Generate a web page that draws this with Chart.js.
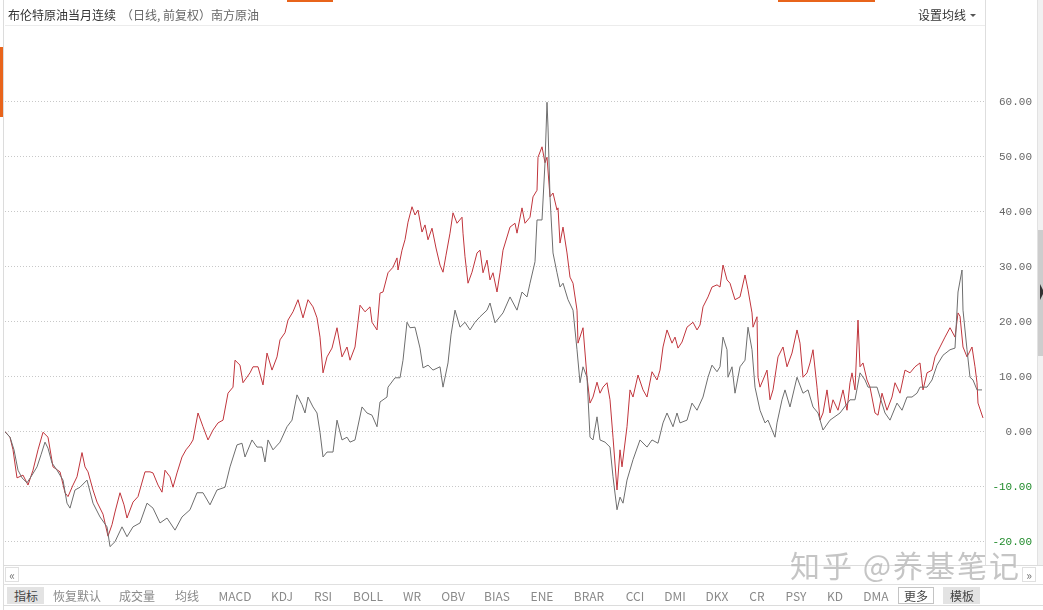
<!DOCTYPE html>
<html>
<head>
<meta charset="utf-8">
<script src="https://cdn.jsdelivr.net/npm/chart.js@4/dist/chart.umd.min.js"></script>
<style>
  html, body { margin:0; padding:0; background:#fff; }
  #wrap { position:relative; width:1043px; height:610px; overflow:hidden; background:#fff; font-family:"Noto Sans CJK SC", sans-serif; }
  #c { position:absolute; left:0; top:0; }
  .abs { position:absolute; }
  .tab { position:absolute; top:587px; height:17px; line-height:17px; font-size:12px; color:#8a8a8a; transform:translateX(-50%); white-space:nowrap; }
</style>
</head>
<body>
<div id="wrap">
  <canvas id="c" width="1043" height="610"></canvas>

  <!-- frame decorations -->
  <div class="abs" style="left:3px;top:0;width:1px;height:610px;background:#dcdcdc"></div>
  <div class="abs" style="left:0;top:47px;width:3px;height:70px;background:#e8641b"></div>
  <div class="abs" style="left:287px;top:0;width:46px;height:2px;background:#e8641b"></div>
  <div class="abs" style="left:778px;top:0;width:97px;height:2px;background:#e8641b"></div>
  <div class="abs" style="left:5px;top:25px;width:980px;height:1px;background:#ececec"></div>
  <div class="abs" style="left:985px;top:0;width:1px;height:565px;background:#dedede"></div>
  <div class="abs" style="left:1037px;top:0;width:6px;height:565px;background:#f1f1f1;border-left:1px solid #e2e2e2"></div>
  <div class="abs" style="left:1038px;top:230px;width:5px;height:126px;background:#cdcdcd"></div>
  <div class="abs" style="left:1040px;top:284px;width:0;height:0;border-top:8px solid transparent;border-bottom:8px solid transparent;border-left:4px solid #333"></div>

  <div id="title" class="abs" style="left:8px;top:6px;font-size:12px;line-height:18px;color:#333;white-space:nowrap"></div>
  <div id="maset" class="abs" style="left:918px;top:6px;font-size:12px;line-height:18px;color:#333;white-space:nowrap">设置均线</div>
  <div class="abs" style="left:970px;top:14px;width:0;height:0;border-left:3px solid transparent;border-right:3px solid transparent;border-top:3px solid #555"></div>

  <!-- bottom toolbar -->
  <div class="abs" style="left:3px;top:565px;width:1040px;height:1px;background:#dcdcdc"></div>
  <div class="abs" style="left:5px;top:567px;width:14px;height:15px;border:1px solid #e0e0e0;box-sizing:border-box;font-size:12px;line-height:13px;color:#777;text-align:center">«</div>
  <div class="abs" style="left:1022px;top:567px;width:14px;height:15px;border:1px solid #e0e0e0;box-sizing:border-box;font-size:12px;line-height:13px;color:#777;text-align:center">»</div>
  <div class="abs" style="left:3px;top:584px;width:1040px;height:1px;background:#e0e0e0"></div>
  <div class="abs" style="left:3px;top:605px;width:1040px;height:1px;background:#dcdcdc"></div>
  <div class="abs" style="left:7px;top:587px;width:37px;height:17px;background:#e3e3e3"></div>
  <div class="abs" style="left:898px;top:587px;width:36px;height:17px;border:1px solid #c4c4c4;box-sizing:border-box"></div>
  <div class="abs" style="left:943px;top:587px;width:37px;height:17px;background:#e3e3e3"></div>
  <div id="tabs"></div>

  <div class="abs" style="left:790px;top:545px;font-size:30px;line-height:38px;color:rgba(140,140,140,0.5);white-space:nowrap;letter-spacing:2px;text-shadow:0 0 2px #fff">知乎 @养基笔记</div>
</div>

<script>
// ---------------- data ----------------
const titleMain = "布伦特原油当月连续";
const titleSub = "（日线, 前复权）";
const titleCompare = "南方原油";

const yTicks = [60, 50, 40, 30, 20, 10, 0, -10, -20];

// red series: trading-day index and cumulative change (%)
const redDays = [0,5,8,12,18,23,28,33,38,43,48,55,60,63,68,72,77,80,83,88,92,98,103,107,110,115,119,122,128,133,140,145,148,153,157,160,165,168,172,177,181,185,188,193,198,203,208,213,218,223,228,230,235,238,245,248,253,258,262,267,272,275,280,283,288,293,298,303,308,312,315,318,322,327,332,337,342,345,350,355,360,365,367,372,375,378,383,388,392,393,397,400,403,407,410,413,417,420,423,427,431,435,438,441,445,448,452,457,458,460,463,467,472,475,478,482,485,488,492,495,498,502,505,510,512,517,520,525,528,532,533,537,540,542,545,548,552,553,555,558,562,565,568,572,573,578,582,585,588,592,595,598,602,605,608,612,615,617,622,625,628,633,638,642,647,652,655,658,662,667,670,673,677,682,688,692,695,698,703,707,712,715,718,722,725,730,735,740,743,747,748,752,753,755,758,762,765,768,773,778,782,787,792,795,798,802,805,808,812,815,818,822,825,828,833,838,842,845,847,850,853,855,858,862,865,870,873,877,882,887,890,895,900,905,910,915,918,922,927,930,935,940,945,950,953,955,958,962,967,970,972,973,978];
const redVals = [0.0,-1.0,-3.3,-8.4,-7.9,-9.7,-7.0,-3.3,-0.1,-1.0,-6.4,-7.3,-11.1,-11.8,-9.7,-8.2,-3.8,-6.4,-7.3,-10.6,-12.8,-15.0,-19.0,-16.9,-14.6,-11.1,-13.3,-15.7,-12.8,-11.8,-7.3,-7.3,-7.5,-9.7,-11.0,-7.0,-8.2,-10.1,-7.5,-4.6,-3.3,-2.4,-1.5,3.4,0.9,-1.5,0.3,1.6,2.1,7.0,8.1,13.0,12.1,8.9,10.7,11.8,11.8,8.5,14.3,11.2,13.6,16.7,18.0,20.3,21.8,24.0,20.7,24.0,22.7,20.7,17.2,10.7,13.6,15.2,18.9,13.6,15.4,13.0,15.4,23.0,21.8,22.7,19.9,18.5,25.2,25.4,28.9,29.9,31.6,29.4,33.0,34.9,38.1,40.9,39.4,40.3,36.3,37.6,34.9,37.0,33.4,30.3,29.0,32.1,36.1,39.8,37.9,39.0,36.1,31.8,27.0,29.0,32.5,33.0,28.9,31.2,27.6,28.9,25.4,28.9,33.0,35.4,37.2,37.9,36.1,40.7,37.9,39.0,42.7,43.9,49.9,51.8,48.9,49.9,42.7,43.4,40.3,40.7,34.3,37.2,32.5,28.1,27.0,22.1,16.1,18.9,9.9,5.2,6.3,9.0,7.0,8.1,8.9,5.8,-1.0,-10.6,-3.3,-6.4,0.9,7.6,6.3,10.3,7.6,6.3,10.9,9.4,11.2,15.4,18.5,16.1,17.2,15.2,16.3,19.0,19.9,18.5,19.4,22.7,24.5,26.3,26.7,26.3,30.3,27.6,27.0,24.0,24.5,28.5,25.8,21.6,19.0,20.9,9.9,8.1,9.4,11.2,5.8,7.6,13.6,15.4,11.8,14.3,18.5,16.1,9.9,10.7,12.5,14.9,8.1,2.1,3.4,7.6,3.4,5.8,3.9,7.6,3.9,8.9,10.7,7.6,20.3,11.8,12.5,9.4,8.1,3.4,3.0,7.0,3.9,6.3,8.9,7.0,11.2,10.7,11.8,12.5,7.6,10.7,11.2,13.6,15.4,17.2,18.9,17.2,21.6,21.0,15.4,13.6,15.4,11.8,8.9,5.2,2.5];

// gray series: trading-day index and cumulative change (%)
const grayDays = [0,5,9,13,17,22,27,32,36,40,43,47,52,58,62,65,70,75,82,88,95,102,105,110,117,122,128,135,142,148,155,162,170,177,185,192,198,205,212,220,225,232,237,240,247,252,257,260,263,268,275,282,287,292,297,300,303,308,312,315,318,322,328,332,337,342,345,350,357,362,367,372,375,382,383,390,395,398,402,405,410,415,418,423,428,435,438,443,446,450,455,460,465,470,475,482,485,490,498,505,512,517,522,525,530,532,537,540,542,543,545,548,552,555,558,563,568,572,575,578,582,585,588,592,595,600,605,608,612,615,618,622,628,635,642,647,653,658,662,668,672,675,682,687,692,698,703,707,712,715,718,722,723,727,730,735,740,743,747,750,755,760,763,770,772,777,780,785,792,798,803,808,813,818,825,835,845,850,855,860,863,872,875,880,885,892,897,902,907,912,915,922,927,932,938,945,950,953,957,958,962,965,968,972,977];
const grayVals = [0.0,-1.0,-3.3,-7.0,-8.4,-9.3,-7.9,-6.4,-4.2,-1.9,-3.0,-5.7,-7.0,-8.8,-13.0,-13.9,-10.6,-10.1,-8.8,-13.0,-15.5,-17.3,-20.9,-20.0,-17.3,-19.1,-17.3,-16.6,-13.0,-13.9,-16.6,-15.7,-17.9,-15.5,-14.2,-11.1,-11.1,-13.3,-10.6,-10.1,-6.4,-2.4,-2.1,-4.6,-1.5,-2.8,-2.8,-5.5,-1.5,-3.3,-1.9,0.9,2.1,6.7,4.9,3.4,6.3,4.5,3.4,-0.1,-4.6,-3.7,-3.7,2.1,-1.5,-1.0,-1.9,-1.5,4.5,3.4,3.0,0.9,5.4,6.3,8.1,9.8,9.8,13.0,19.9,18.9,19.0,15.2,11.6,12.1,11.2,11.8,8.1,12.5,17.6,22.1,19.0,19.9,18.5,19.9,20.9,22.1,23.4,19.8,21.6,24.5,22.1,25.4,24.5,27.0,30.9,38.5,38.5,48.9,59.9,55.4,42.7,32.5,28.9,26.3,27.0,24.0,22.1,14.9,8.9,11.8,9.9,-1.0,-1.5,2.7,-1.5,-1.9,-2.8,-8.2,-14.2,-11.9,-13.0,-8.8,-5.1,-1.5,-2.8,-1.5,-2.1,1.6,3.4,0.9,3.4,1.6,2.1,5.2,3.9,6.3,9.9,12.1,10.9,11.8,17.2,14.9,9.9,11.8,7.0,11.8,13.0,19.0,14.9,8.1,3.9,1.6,2.1,-1.0,1.6,5.8,7.6,4.5,9.9,7.0,7.6,4.5,3.4,0.3,2.1,3.4,5.8,5.8,10.7,9.4,8.1,8.1,6.3,3.4,2.1,5.2,3.9,6.3,6.3,7.0,8.1,8.1,9.4,12.1,13.9,14.9,15.2,25.4,29.4,22.1,14.9,9.9,9.4,7.6,7.6];

const tabNames = ["指标","恢复默认","成交量","均线","MACD","KDJ","RSI","BOLL","WR","OBV","BIAS","ENE","BRAR","CCI","DMI","DKX","CR","PSY","KD","DMA","更多","模板"];
const tabCenters = [26,77,137,187,235,282,323,368,412,453,497,542,589,635,675,717,757,796,835,876,916,962];

// ---------------- DOM text ----------------
document.getElementById('title').innerHTML =
  titleMain + '<span style="color:#666;margin-left:5px">' + titleSub + titleCompare + '</span>';
const tabsEl = document.getElementById('tabs');
tabNames.forEach((t, i) => {
  const d = document.createElement('div');
  d.className = 'tab';
  d.style.left = tabCenters[i] + 'px';
  if (t === '指标' || t === '模板' || t === '更多') d.style.color = '#444';
  d.textContent = t;
  tabsEl.appendChild(d);
});

// ---------------- chart ----------------
const toXY = (days, vals) => days.map((d, i) => ({ x: d, y: vals[i] }));

new Chart(document.getElementById('c'), {
  type: 'line',
  data: {
    datasets: [
      { label: titleMain, data: toXY(grayDays, grayVals), borderColor: '#6e6e6e', borderWidth: 1, pointRadius: 0, tension: 0, fill: false },
      { label: titleCompare, data: toXY(redDays, redVals), borderColor: '#c0353c', borderWidth: 1, pointRadius: 0, tension: 0, fill: false }
    ]
  },
  options: {
    responsive: false,
    devicePixelRatio: 1,
    animation: false,
    events: [],
    layout: { padding: { left: 5, top: 25, right: 11, bottom: 45 } },
    plugins: { legend: { display: false }, tooltip: { enabled: false } },
    scales: {
      x: { type: 'linear', min: 0, max: 980, display: false },
      y: {
        position: 'right',
        min: -24.24,
        max: 73.95,
        afterBuildTicks: s => { s.ticks = yTicks.map(v => ({ value: v })); },
        afterFit: s => { s.width = 47; },
        grid: { color: '#c8c8c8', drawTicks: false, lineWidth: 1 },
        border: { display: false, dash: [1, 2] },
        ticks: {
          crossAlign: 'far',
          padding: 8,
          font: { family: 'Liberation Mono', size: 11 },
          color: ctx => (ctx.tick && ctx.tick.value < 0) ? '#1f8a2a' : '#666666',
          callback: v => Number(v).toFixed(2)
        }
      }
    }
  }
});
</script>
</body>
</html>
